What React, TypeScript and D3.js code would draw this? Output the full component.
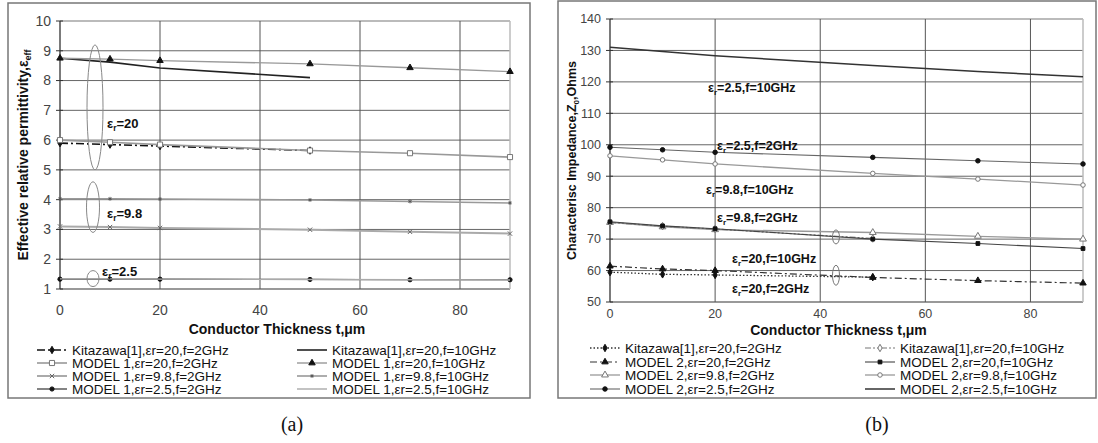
import React from 'react';
import * as d3 from 'd3';

// thickness values (um) where the curves were computed
const thickness = [0, 10, 20, 50, 70, 90];
const kitThickness = [0, 10, 20, 50];
const xTicks = [0, 20, 40, 60, 80];

// (a) effective relative permittivity
const effTicks = [1, 2, 3, 4, 5, 6, 7, 8, 9, 10];
const effKit20_2 = [5.9, 5.85, 5.8, 5.65];
const effKit20_10 = [8.75, 8.62, 8.42, 8.1];
const effM1_20_2 = [6.0, 5.93, 5.85, 5.65, 5.56, 5.43];
const effM1_20_10 = [8.75, 8.72, 8.67, 8.56, 8.43, 8.3];
const effM1_98_2 = [3.1, 3.08, 3.05, 2.99, 2.92, 2.86];
const effM1_98_10 = [4.03, 4.03, 4.02, 3.99, 3.94, 3.89];
const effM1_25_2 = [1.33, 1.33, 1.33, 1.32, 1.31, 1.31];
const effM1_25_10 = [1.34, 1.34, 1.33, 1.32, 1.31, 1.3];

// (b) characteristic impedance
const zTicks = [50, 60, 70, 80, 90, 100, 110, 120, 130, 140];
const zKit20_2 = [59.5, 58.8, 58.6, 57.9];
const zKit20_10 = [75.3, 74.1, 73.2, 70.2];
const zM2_20_2 = [61.4, 60.5, 60.0, 57.8, 56.8, 56.0];
const zM2_20_10 = [75.5, 74.2, 73.3, 70.0, 68.6, 67.0];
const zM2_98_2 = [75.3, 73.9, 73.0, 72.1, 70.9, 70.0];
const zM2_98_10 = [96.5, 95.2, 93.9, 90.9, 89.1, 87.2];
const zM2_25_2 = [99.2, 98.4, 97.6, 96.0, 94.9, 93.9];
const zM2_25_10 = [131.0, 129.7, 128.3, 125.2, 123.3, 121.6];

const FONT = '"Liberation Sans", Arial, sans-serif';

type Marker = 'diamond' | 'square' | 'triangle' | 'x' | 'star' | 'circle' | 'none';
interface Series {
  label: string;
  xs: number[];
  ys: number[];
  stroke: string;
  width: number;
  dash?: string;
  marker: Marker;
  mFill: string;
  mStroke: string;
  mSize: number;
}

const symbolType = (m: Marker) => {
  switch (m) {
    case 'diamond': return d3.symbolDiamond;
    case 'square': return d3.symbolSquare;
    case 'triangle': return d3.symbolTriangle;
    case 'x': return d3.symbolX;
    case 'star': return d3.symbolAsterisk;
    default: return d3.symbolCircle;
  }
};

const MarkerShape = ({ s, x, y }: { s: Series; x: number; y: number }) => {
  if (s.marker === 'none') return null;
  const path = d3.symbol().type(symbolType(s.marker)).size(s.mSize)();
  return (
    <path
      d={path || ''}
      transform={`translate(${x},${y})`}
      fill={s.mFill}
      stroke={s.mStroke}
      strokeWidth={1}
    />
  );
};

const leftSeries: Series[] = [
  { label: 'Kitazawa[1],εr=20,f=2GHz', xs: kitThickness, ys: effKit20_2, stroke: '#111', width: 1.6, dash: '8,3,2,3', marker: 'diamond', mFill: '#111', mStroke: '#111', mSize: 16 },
  { label: 'MODEL 1,εr=20,f=2GHz', xs: thickness, ys: effM1_20_2, stroke: '#999', width: 1.6, marker: 'square', mFill: '#fff', mStroke: '#777', mSize: 26 },
  { label: 'MODEL 1,εr=9.8,f=2GHz', xs: thickness, ys: effM1_98_2, stroke: '#aaa', width: 2, marker: 'x', mFill: 'none', mStroke: '#666', mSize: 14 },
  { label: 'MODEL 1,εr=2.5,f=2GHz', xs: thickness, ys: effM1_25_2, stroke: '#333', width: 1.2, marker: 'circle', mFill: '#111', mStroke: '#111', mSize: 14 },
  { label: 'Kitazawa[1],εr=20,f=10GHz', xs: kitThickness, ys: effKit20_10, stroke: '#222', width: 1.6, marker: 'none', mFill: 'none', mStroke: 'none', mSize: 0 },
  { label: 'MODEL 1,εr=20,f=10GHz', xs: thickness, ys: effM1_20_10, stroke: '#999', width: 1.4, marker: 'triangle', mFill: '#111', mStroke: '#111', mSize: 18 },
  { label: 'MODEL 1,εr=9.8,f=10GHz', xs: thickness, ys: effM1_98_10, stroke: '#999', width: 1.6, marker: 'star', mFill: 'none', mStroke: '#555', mSize: 10 },
  { label: 'MODEL 1,εr=2.5,f=10GHz', xs: thickness, ys: effM1_25_10, stroke: '#aaa', width: 1.4, marker: 'none', mFill: 'none', mStroke: 'none', mSize: 0 },
];

const rightSeries: Series[] = [
  { label: 'Kitazawa[1],εr=20,f=2GHz', xs: kitThickness, ys: zKit20_2, stroke: '#333', width: 1.3, dash: '1.5,2', marker: 'diamond', mFill: '#111', mStroke: '#111', mSize: 16 },
  { label: 'MODEL 2,εr=20,f=2GHz', xs: thickness, ys: zM2_20_2, stroke: '#333', width: 1.2, dash: '7,3,2,3', marker: 'triangle', mFill: '#111', mStroke: '#111', mSize: 18 },
  { label: 'MODEL 2,εr=9.8,f=2GHz', xs: thickness, ys: zM2_98_2, stroke: '#999', width: 1.3, marker: 'triangle', mFill: '#fff', mStroke: '#777', mSize: 20 },
  { label: 'MODEL 2,εr=2.5,f=2GHz', xs: thickness, ys: zM2_25_2, stroke: '#666', width: 1.1, marker: 'circle', mFill: '#111', mStroke: '#111', mSize: 16 },
  { label: 'Kitazawa[1],εr=20,f=10GHz', xs: kitThickness, ys: zKit20_10, stroke: '#777', width: 1.2, dash: '6,2,2,2,2,2', marker: 'diamond', mFill: '#fff', mStroke: '#777', mSize: 16 },
  { label: 'MODEL 2,εr=20,f=10GHz', xs: thickness, ys: zM2_20_10, stroke: '#444', width: 1.1, marker: 'square', mFill: '#111', mStroke: '#111', mSize: 14 },
  { label: 'MODEL 2,εr=9.8,f=10GHz', xs: thickness, ys: zM2_98_10, stroke: '#999', width: 1.3, marker: 'circle', mFill: '#fff', mStroke: '#777', mSize: 16 },
  { label: 'MODEL 2,εr=2.5,f=10GHz', xs: thickness, ys: zM2_25_10, stroke: '#333', width: 1.5, marker: 'none', mFill: 'none', mStroke: 'none', mSize: 0 },
];

// a subscripted εr style label
const Eps = ({ x, y, rest, size = 13 }: { x: number; y: number; rest: string; size?: number }) => (
  <text x={x} y={y} fontFamily={FONT} fontWeight="bold" fontSize={size} fill="#111">
    ε<tspan fontSize={size * 0.65} dy={3}>r</tspan>
    <tspan dy={-3}>{rest}</tspan>
  </text>
);

interface PanelProps {
  frame: [number, number, number, number];
  xRange: [number, number];
  yRange: [number, number];
  yDomain: [number, number];
  yTicks: number[];
  series: Series[];
  tickSize: number;
  xLabelY: number;
  titleY: number;
  legendX: [number, number];
  legendRows: number[];
  yTitleX: number;
  yTitle: React.ReactNode;
  caption: string;
  captionX: number;
  children?: (x: d3.ScaleLinear<number, number>, y: d3.ScaleLinear<number, number>) => React.ReactNode;
}

const Panel = (p: PanelProps) => {
  const x = d3.scaleLinear().domain([0, 90]).range(p.xRange);
  const y = d3.scaleLinear().domain(p.yDomain).range(p.yRange);
  const [fx, fy, fw, fh] = p.frame;
  const x0 = x(0), x1 = x(90), yTop = y(p.yDomain[1]), yBot = y(p.yDomain[0]);
  const line = d3.line<[number, number]>().x(d => x(d[0])).y(d => y(d[1]));
  const mid = (x0 + x1) / 2;
  return (
    <g>
      <rect x={fx} y={fy} width={fw} height={fh} fill="#fff" stroke="#777" strokeWidth={1.5} />
      {/* horizontal grid */}
      {p.yTicks.map(t => (
        <line key={'h' + t} x1={x0} x2={x1} y1={y(t)} y2={y(t)}
          stroke={t === p.yDomain[1] ? '#bbb' : t === p.yDomain[0] ? '#999' : '#666'}
          strokeWidth={t === p.yDomain[1] || t === p.yDomain[0] ? 2 : 1} />
      ))}
      {/* vertical grid */}
      {xTicks.filter(t => t > 0).map(t => (
        <line key={'v' + t} x1={x(t)} x2={x(t)} y1={yTop} y2={yBot} stroke="#555" strokeWidth={1} />
      ))}
      <line x1={x1} x2={x1} y1={yTop} y2={yBot} stroke="#bbb" strokeWidth={1.5} />
      <line x1={x0} x2={x0} y1={yTop} y2={yBot} stroke="#333" strokeWidth={1.3} />
      {p.yTicks.map(t => (
        <line key={'t' + t} x1={x0 - 4} x2={x0 + 3} y1={y(t)} y2={y(t)} stroke="#333" />
      ))}
      {p.yTicks.map(t => (
        <text key={'yl' + t} x={x0 - 9} y={y(t)} dy="0.35em" textAnchor="end"
          fontFamily={FONT} fontSize={p.tickSize} fill="#444">{t}</text>
      ))}
      {xTicks.map(t => (
        <text key={'xl' + t} x={x(t)} y={p.xLabelY} textAnchor="middle"
          fontFamily={FONT} fontSize={p.tickSize} fill="#444">{t}</text>
      ))}
      <text x={mid - 8} y={p.titleY} textAnchor="middle" fontFamily={FONT} fontWeight="bold" fontSize={14} fill="#111">
        Conductor Thickness t,μm
      </text>
      <g transform={`translate(${p.yTitleX},${(yTop + yBot) / 2}) rotate(-90)`}>{p.yTitle}</g>

      {/* series */}
      {p.series.map((s, i) => (
        <g key={'s' + i}>
          <path d={line(s.xs.map((v, j) => [v, s.ys[j]] as [number, number])) || ''}
            fill="none" stroke={s.stroke} strokeWidth={s.width} strokeDasharray={s.dash} />
          {s.xs.map((v, j) => <MarkerShape key={j} s={s} x={x(v)} y={y(s.ys[j])} />)}
        </g>
      ))}

      {p.children && p.children(x, y)}

      {/* legend: two columns of four */}
      {p.series.map((s, i) => {
        const col = Math.floor(i / 4);
        const lx = p.legendX[col];
        const ly = p.legendRows[i % 4];
        return (
          <g key={'lg' + i}>
            <line x1={lx} x2={lx + 30} y1={ly} y2={ly} stroke={s.stroke} strokeWidth={s.width} strokeDasharray={s.dash} />
            <MarkerShape s={s} x={lx + 15} y={ly} />
            <text x={lx + 35} y={ly} dy="0.36em" fontFamily={FONT} fontSize={13.5} fill="#111">{s.label}</text>
          </g>
        );
      })}
      <text x={p.captionX} y={431} textAnchor="middle" fontFamily='"Liberation Serif", "Times New Roman", serif' fontSize={20} fill="#111">
        {p.caption}
      </text>
    </g>
  );
};

const App = () => (
  <svg width={1098} height={443} style={{ position: 'absolute', left: 0, top: 0, background: '#fff' }}>
    <Panel
      frame={[8, 3, 522, 395]}
      xRange={[60, 510]}
      yRange={[289, 21]}
      yDomain={[1, 10]}
      yTicks={effTicks}
      series={leftSeries}
      tickSize={14}
      xLabelY={315}
      titleY={334}
      legendX={[37, 297]}
      legendRows={[350, 363, 376, 389]}
      yTitleX={28}
      caption="(a)"
      captionX={292}
      yTitle={
        <text textAnchor="middle" fontFamily={FONT} fontWeight="bold" fontSize={14} fill="#111">
          Effective relative permittivity,ε<tspan fontSize={9} dy={3}>eff</tspan>
        </text>
      }
    >
      {(x, y) => (
        <g>
          <ellipse cx={x(7)} cy={(y(9.2) + y(5.0)) / 2} rx={8} ry={(y(5.0) - y(9.2)) / 2} fill="none" stroke="#888" />
          <ellipse cx={x(6.6)} cy={(y(4.6) + y(2.9)) / 2} rx={6.5} ry={(y(2.9) - y(4.6)) / 2} fill="none" stroke="#888" />
          <ellipse cx={x(6.6)} cy={y(1.35)} rx={6} ry={8} fill="none" stroke="#888" />
          <Eps x={107} y={128} rest="=20" />
          <Eps x={107} y={218} rest="=9.8" />
          <Eps x={102} y={276} rest="=2.5" />
        </g>
      )}
    </Panel>
    <Panel
      frame={[558, 1, 538, 397]}
      xRange={[610, 1083]}
      yRange={[302, 19]}
      yDomain={[50, 140]}
      yTicks={zTicks}
      series={rightSeries}
      tickSize={12.5}
      xLabelY={318}
      titleY={335}
      legendX={[590, 865]}
      legendRows={[348, 362, 375, 389]}
      yTitleX={576}
      caption="(b)"
      captionX={877}
      yTitle={
        <text textAnchor="middle" fontFamily={FONT} fontWeight="bold" fontSize={12.5} fill="#111">
          Characterisc Impedance,Z<tspan fontSize={8} dy={3}>0</tspan><tspan dy={-3}>,Ohms</tspan>
        </text>
      }
    >
      {(x, y) => (
        <g>
          <ellipse cx={x(43)} cy={y(70.7)} rx={3.5} ry={7} fill="none" stroke="#777" />
          <ellipse cx={x(43)} cy={y(58.5)} rx={3.5} ry={10} fill="none" stroke="#777" />
          <Eps x={708} y={92} rest="=2.5,f=10GHz" size={12.5} />
          <Eps x={717} y={150} rest="=2.5,f=2GHz" size={12.5} />
          <Eps x={706} y={194} rest="=9.8,f=10GHz" size={12.5} />
          <Eps x={717} y={222} rest="=9.8,f=2GHz" size={12.5} />
          <Eps x={732} y={263} rest="=20,f=10GHz" size={12.5} />
          <Eps x={732} y={293} rest="=20,f=2GHz" size={12.5} />
        </g>
      )}
    </Panel>
  </svg>
);

export default App;
